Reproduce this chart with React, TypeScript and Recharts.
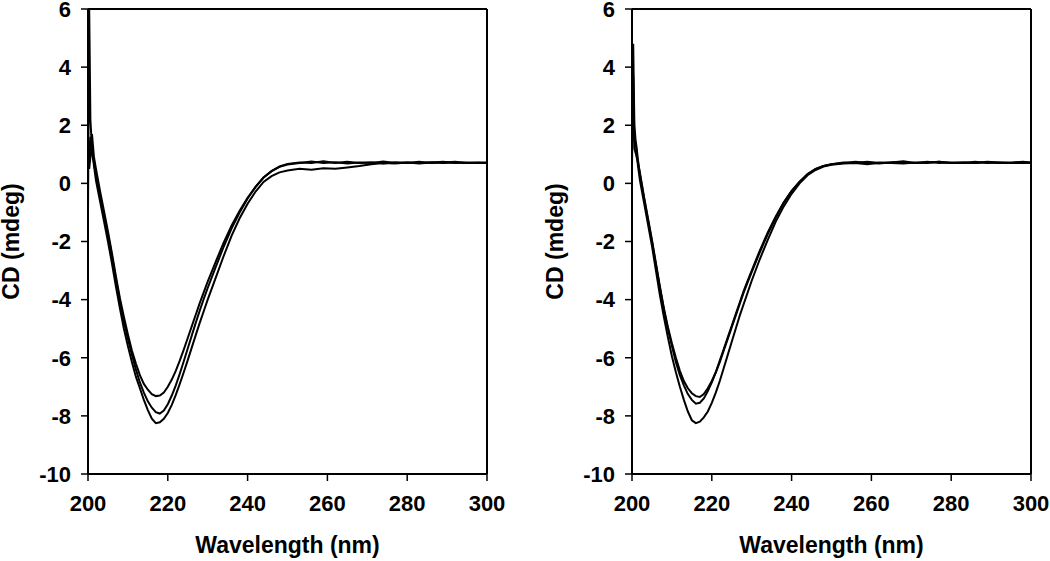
import React from 'react';
import { LineChart, Line, XAxis, YAxis } from 'recharts';

// Wavelengths (nm)
const wavelengths = [200, 200.3, 200.6, 201, 201.5, 202, 203, 204, 205, 206, 207, 208, 209, 210, 211, 212, 213, 214, 215, 216, 217, 218, 219, 220, 221, 222, 223, 224, 225, 226, 227, 228, 229, 230, 232, 234, 236, 238, 240, 242, 244, 246, 248, 250, 253, 256, 259, 262, 265, 268, 271, 274, 277, 280, 283, 286, 289, 292, 295, 298, 300];

// Left panel series (CD, mdeg)
const leftA = [-1.0, 6.0, 2.2, 1.2, 0.6, 0.1,
  -0.6, -1.3, -2.0, -2.75, -3.55, -4.3, -5.0, -5.6, -6.15, -6.65, -7.05, -7.45, -7.8, -8.1, -8.25, -8.22, -8.1, -7.9, -7.62, -7.28, -6.9, -6.5, -6.08, -5.65, -5.22, -4.8, -4.4, -4.0,
  -3.25, -2.5, -1.8, -1.2, -0.7, -0.28, 0.05, 0.25, 0.38, 0.44,
  0.5, 0.47, 0.52, 0.5, 0.55, 0.6, 0.66, 0.7, 0.68, 0.72, 0.7, 0.73, 0.7, 0.72, 0.7, 0.71, 0.7];
const leftB = [0.5, 1.0, 1.6, 1.0, 0.7, 0.3,
  -0.4, -1.05, -1.75, -2.5, -3.3, -4.05, -4.75, -5.35, -5.9, -6.4, -6.85, -7.2, -7.5, -7.72, -7.87, -7.92, -7.82, -7.6, -7.3, -6.95, -6.55, -6.12, -5.68, -5.24, -4.8, -4.38, -3.98, -3.6,
  -2.88, -2.18, -1.55, -1.0, -0.52, -0.12, 0.2, 0.42, 0.57, 0.65,
  0.7, 0.75, 0.7, 0.73, 0.68, 0.72, 0.7, 0.75, 0.7, 0.72, 0.68, 0.72, 0.74, 0.7, 0.72, 0.7, 0.72];
const leftC = [0.8, 0.5, 0.9, 1.7, 0.9, 0.5,
  -0.25, -0.95, -1.65, -2.4, -3.2, -3.95, -4.6, -5.2, -5.75, -6.2, -6.6, -6.9, -7.1, -7.25, -7.32, -7.3, -7.2, -7.0, -6.75, -6.45, -6.1, -5.72, -5.32, -4.92, -4.52, -4.12, -3.75, -3.38,
  -2.7, -2.04, -1.45, -0.94, -0.5, -0.12, 0.2, 0.42, 0.58, 0.67,
  0.72, 0.7, 0.76, 0.7, 0.74, 0.7, 0.73, 0.68, 0.73, 0.7, 0.74, 0.7, 0.72, 0.74, 0.7, 0.72, 0.7];

// Right panel series (CD, mdeg)
const rightD = [0.5, 4.8, 2.0, 1.3, 0.6, 0.1,
  -0.65, -1.4, -2.15, -3.0, -3.85, -4.6, -5.3, -5.95, -6.5, -7.0, -7.45, -7.85, -8.15, -8.25, -8.2, -8.05, -7.85, -7.55, -7.2, -6.8, -6.35, -5.9, -5.45, -5.0, -4.55, -4.15, -3.75, -3.35,
  -2.62, -1.95, -1.32, -0.8, -0.36, 0.0, 0.28, 0.46, 0.58, 0.64,
  0.68, 0.7, 0.66, 0.72, 0.7, 0.68, 0.72, 0.7, 0.74, 0.7, 0.72, 0.7, 0.73, 0.7, 0.72, 0.74, 0.72];
const rightE = [1.0, 3.7, 1.5, 1.4, 0.8, 0.3,
  -0.5, -1.25, -2.0, -2.8, -3.6, -4.35, -5.0, -5.6, -6.15, -6.6, -6.95, -7.25, -7.45, -7.58, -7.55, -7.4, -7.15, -6.85, -6.5, -6.1, -5.7, -5.3, -4.9, -4.5, -4.1, -3.7, -3.35, -3.0,
  -2.32, -1.7, -1.15, -0.66, -0.26, 0.06, 0.32, 0.5, 0.6, 0.66,
  0.7, 0.74, 0.7, 0.68, 0.73, 0.72, 0.7, 0.74, 0.7, 0.72, 0.7, 0.74, 0.7, 0.72, 0.7, 0.7, 0.72];
const rightF = [1.5, 2.6, 1.2, 1.0, 0.7, 0.35,
  -0.45, -1.2, -1.95, -2.75, -3.55, -4.3, -4.95, -5.5, -6.0, -6.45, -6.8, -7.05, -7.22, -7.32, -7.35, -7.25, -7.05, -6.8, -6.5, -6.15, -5.75, -5.35, -4.95, -4.55, -4.15, -3.75, -3.4, -3.05,
  -2.38, -1.75, -1.18, -0.68, -0.27, 0.05, 0.31, 0.49, 0.6, 0.66,
  0.72, 0.7, 0.74, 0.7, 0.72, 0.76, 0.7, 0.72, 0.74, 0.7, 0.72, 0.7, 0.74, 0.72, 0.7, 0.72, 0.7];

const xTicks = [200, 220, 240, 260, 280, 300];
const yTicks = [-10, -8, -6, -4, -2, 0, 2, 4, 6];
const xTitle = 'Wavelength (nm)';
const yTitle = 'CD (mdeg)';

const FONT = '"Liberation Sans", Arial, sans-serif';
const tickStyle = { fontSize: 22, fontWeight: 'bold', fill: '#000', fontFamily: FONT };
const titleStyle = { fontSize: 23, fontWeight: 'bold', fill: '#000', fontFamily: FONT };

function Panel({ left, s1, s2, s3 }: { left: number; s1: number[]; s2: number[]; s3: number[] }) {
  const data = wavelengths.map((w, i) => ({ w, a: s1[i], b: s2[i], c: s3[i] }));
  return (
    <div style={{ position: 'absolute', left, top: 0 }}>
      <LineChart width={506} height={561} data={data} margin={{ top: 8, right: 11, bottom: 0, left: 0 }}>
        <XAxis
          xAxisId="bottom"
          dataKey="w"
          type="number"
          domain={[200, 300]}
          ticks={xTicks}
          interval={0}
          height={87}
          tickSize={7}
          tickMargin={14}
          stroke="#000"
          axisLine={{ stroke: '#000', strokeWidth: 2 }}
          tickLine={{ stroke: '#000', strokeWidth: 1.5 }}
          tick={tickStyle}
          label={{ value: xTitle, position: 'insideBottom', offset: 8, style: titleStyle }}
        />
        <XAxis
          xAxisId="top"
          orientation="top"
          dataKey="w"
          type="number"
          domain={[200, 300]}
          ticks={xTicks}
          interval={0}
          height={1}
          tickSize={6}
          stroke="#000"
          axisLine={{ stroke: '#000', strokeWidth: 2 }}
          tickLine={{ stroke: '#000', strokeWidth: 1.5 }}
          tick={false}
        />
        <YAxis
          yAxisId="left"
          type="number"
          domain={[-10, 6]}
          ticks={yTicks}
          interval={0}
          width={88}
          tickSize={7}
          tickMargin={10}
          stroke="#000"
          axisLine={{ stroke: '#000', strokeWidth: 2 }}
          tickLine={{ stroke: '#000', strokeWidth: 1.5 }}
          tick={tickStyle}
          label={{ value: yTitle, angle: -90, position: 'insideLeft', offset: 11, style: { ...titleStyle, textAnchor: 'middle' } }}
        />
        <YAxis
          yAxisId="right"
          orientation="right"
          type="number"
          domain={[-10, 6]}
          ticks={yTicks}
          interval={0}
          width={8}
          tickSize={6}
          stroke="#000"
          axisLine={{ stroke: '#000', strokeWidth: 2 }}
          tickLine={{ stroke: '#000', strokeWidth: 1.5 }}
          tick={false}
        />
        <Line xAxisId="bottom" yAxisId="left" type="linear" dataKey="a" stroke="#000" strokeWidth={2} dot={false} isAnimationActive={false} />
        <Line xAxisId="bottom" yAxisId="left" type="linear" dataKey="b" stroke="#000" strokeWidth={2} dot={false} isAnimationActive={false} />
        <Line xAxisId="bottom" yAxisId="left" type="linear" dataKey="c" stroke="#000" strokeWidth={2} dot={false} isAnimationActive={false} />
      </LineChart>
    </div>
  );
}

export default function App() {
  return (
    <div style={{ position: 'absolute', left: 0, top: 0, width: 1050, height: 561, background: '#fff', overflow: 'hidden' }}>
      <Panel left={0} s1={leftA} s2={leftB} s3={leftC} />
      <Panel left={544} s1={rightD} s2={rightE} s3={rightF} />
    </div>
  );
}
